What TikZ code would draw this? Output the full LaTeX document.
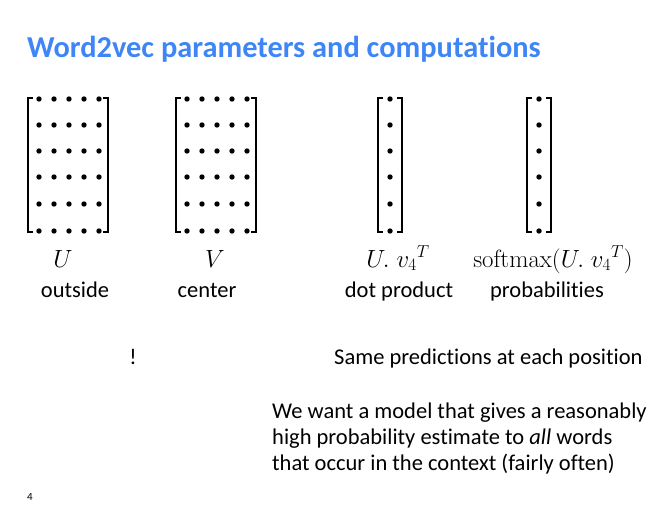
\documentclass[tikz,border=0pt]{standalone}
\usepackage[no-math]{fontspec}
\setmainfont{Carlito}[Ligatures=NoCommon]
\usetikzlibrary{positioning}
\definecolor{titleblue}{RGB}{62,134,246}

\begin{document}
\begin{tikzpicture}[x=1pt, y=-1pt, font=\fontsize{22.5}{26}\selectfont]
\useasboundingbox (0,0) rectangle (668,526);

\node[titleblue, font=\fontsize{30.4}{34}\selectfont\bfseries, anchor=base west, inner sep=0pt] (title) at (27,58) {Word2vec parameters and computations};

% U and V matrices
\foreach \mx/\nm in {0/U, 148/V}{
\begin{scope}[xshift=\mx pt]
\draw[line width=1.6pt] (33,98) -- (28,98) -- (28,232) -- (33,232);
\draw[line width=1.6pt] (103,98) -- (108,98) -- (108,232) -- (103,232);
\foreach \y in {99,125,151,177,204,231}
  \foreach \x in {39,54,69,84,99}
    \fill (\x,\y) circle (2.7pt);
\end{scope}
}

% vectors
\foreach \mx in {0, 149}{
\begin{scope}[xshift=\mx pt]
\draw[line width=1.6pt] (383,98) -- (378,98) -- (378,232) -- (383,232);
\draw[line width=1.6pt] (397,98) -- (402,98) -- (402,232) -- (397,232);
\foreach \y in {99,125,151,177,204,231}
  \fill (390,\y) circle (2.7pt);
\end{scope}
}

\node[anchor=base, font=\fontsize{24}{28}\selectfont] (lU) at (63,267) {$U$};
\node[anchor=base, font=\fontsize{24}{28}\selectfont] (lV) at (215,267) {$V$};
\node[anchor=base, font=\fontsize{24}{28}\selectfont] (lUv) at (398,267) {$U.\;{v_4}^T$};
\node[anchor=base, font=\fontsize{23}{28}\selectfont] (lsm) at (553,267) {$\mathrm{softmax}(U.\;{v_4}^T)$};

\node[anchor=base] (out) at (75,297) {outside};
\node[anchor=base] (cen) at (207,297) {center};
\node[anchor=base] (dot) at (399,297) {dot product};
\node[anchor=base] (prob) at (547,297) {probabilities};

\node[anchor=base] (bang) at (133,364) {!};
\node[anchor=base west, inner sep=0pt] (same) at (334,364) {Same predictions at each position};

\node[anchor=base west, align=left, inner sep=0pt] (want) at (272,470) {We want a model that gives a reasonably\\high probability estimate to \emph{all} words\\that occur in the context (fairly often)};

\node[anchor=base, font=\fontsize{11}{13}\selectfont] (pg) at (30,500) {4};

\end{tikzpicture}
\end{document}
